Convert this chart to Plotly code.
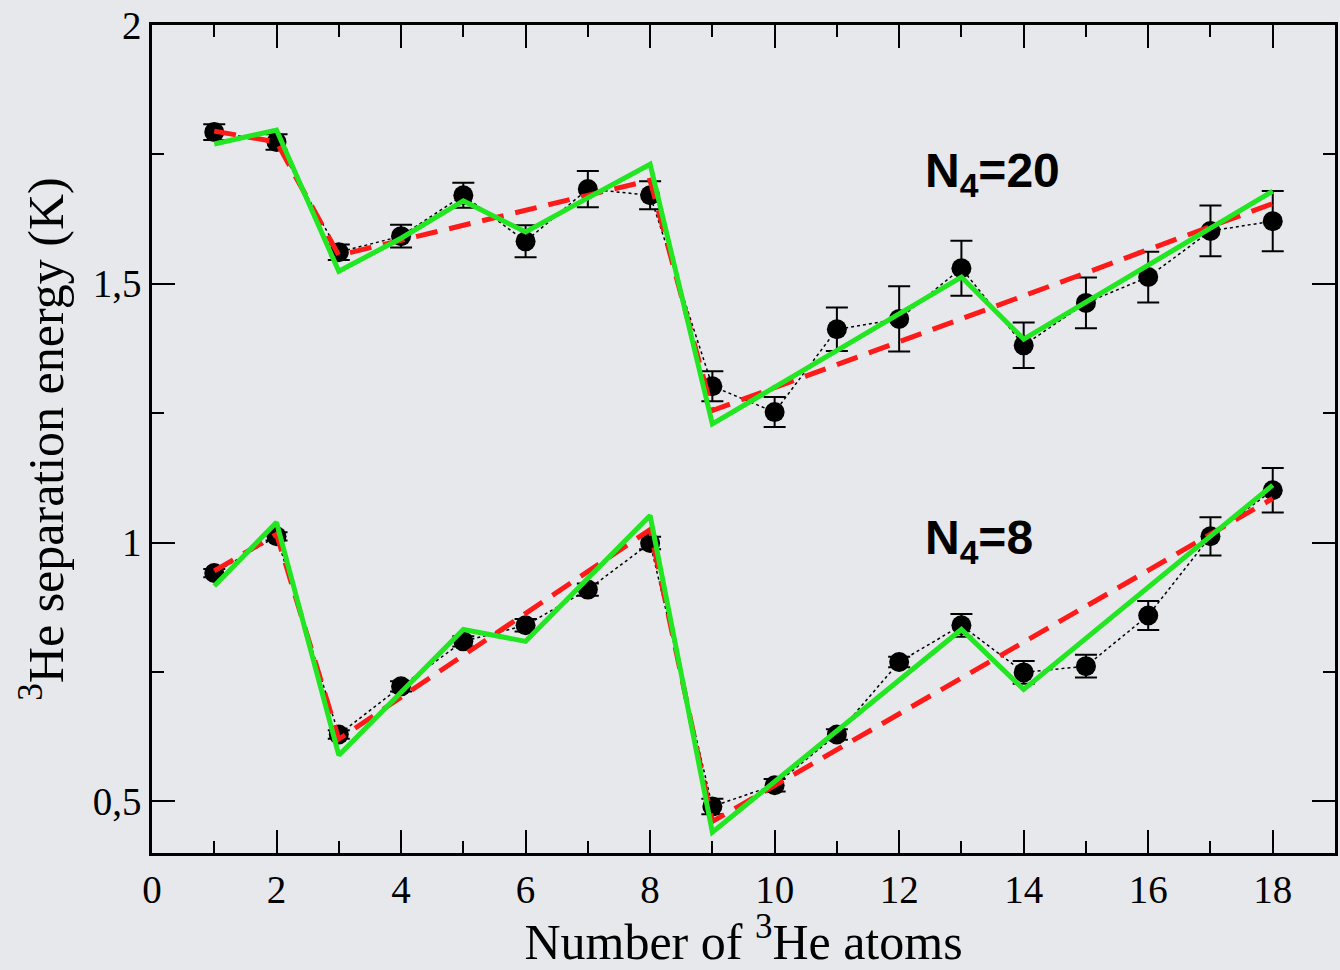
import plotly.graph_objects as go

# ---- data ----
n_he3 = list(range(1, 19))

# N4 = 20 : DMC points with error bars, red dashed model, green solid model
n20_dmc = [1.793, 1.774, 1.561, 1.592, 1.671, 1.582, 1.683, 1.671, 1.302,
           1.252, 1.412, 1.432, 1.530, 1.381, 1.463, 1.513, 1.602, 1.621]
n20_err = [0.015, 0.015, 0.015, 0.022, 0.024, 0.031, 0.035, 0.027, 0.029,
           0.029, 0.042, 0.063, 0.053, 0.044, 0.049, 0.049, 0.049, 0.058]
n20_red = [1.795, 1.774, 1.555, 1.584, 1.613, 1.642, 1.671, 1.700, 1.255,
           1.299, 1.344, 1.388, 1.433, 1.477, 1.521, 1.566, 1.610, 1.655]
n20_green = [1.770, 1.797, 1.524, 1.588, 1.660, 1.600, 1.666, 1.731, 1.229,
             1.300, 1.371, 1.442, 1.513, 1.393, 1.464, 1.536, 1.607, 1.679]

# N4 = 8
n8_dmc = [0.941, 1.012, 0.629, 0.722, 0.809, 0.840, 0.909, 0.999, 0.490,
          0.531, 0.629, 0.769, 0.840, 0.749, 0.761, 0.859, 1.012, 1.101]
n8_err = [0.008, 0.008, 0.008, 0.010, 0.010, 0.012, 0.012, 0.012, 0.015,
          0.012, 0.010, 0.010, 0.022, 0.022, 0.022, 0.028, 0.037, 0.043]
n8_red = [0.945, 1.016, 0.620, 0.701, 0.782, 0.863, 0.944, 1.025, 0.461,
          0.530, 0.600, 0.669, 0.738, 0.808, 0.877, 0.946, 1.016, 1.085]
n8_green = [0.916, 1.039, 0.589, 0.711, 0.832, 0.809, 0.931, 1.052, 0.440,
            0.538, 0.636, 0.734, 0.832, 0.716, 0.815, 0.914, 1.012, 1.111]

x_ticks = [0, 2, 4, 6, 8, 10, 12, 14, 16, 18]
y_ticks = [0.5, 1.0, 1.5, 2.0]
y_ticktext = ["0,5", "1", "1,5", "2"]

labels = [("<b>N<sub>4</sub>=20</b>", 1.712), ("<b>N<sub>4</sub>=8</b>", 1.003)]

# ---- figure ----
BG = "#e6e8eb"
RED = "#ff1a1a"
GREEN = "#22e622"

fig = go.Figure()

for vals, err in [(n20_dmc, n20_err), (n8_dmc, n8_err)]:
    fig.add_trace(go.Scatter(
        x=n_he3, y=vals, mode="lines+markers",
        line=dict(color="black", width=1.5, dash="dot"),
        marker=dict(color="black", size=20),
        error_y=dict(type="data", array=err, visible=True,
                     color="black", thickness=2, width=11),
        showlegend=False))

for vals in [n20_red, n8_red]:
    fig.add_trace(go.Scatter(
        x=n_he3, y=vals, mode="lines",
        line=dict(color=RED, width=5, dash="22px,12px"),
        showlegend=False))

for vals in [n20_green, n8_green]:
    fig.add_trace(go.Scatter(
        x=n_he3, y=vals, mode="lines",
        line=dict(color=GREEN, width=5),
        showlegend=False))

for txt, yv in labels:
    fig.add_annotation(
        x=12.38, y=yv, xref="x", yref="y", text=txt, showarrow=False,
        xanchor="left", yanchor="middle",
        font=dict(family="Liberation Sans", size=48, color="black"))

axis_common = dict(
    showline=True, linecolor="black", linewidth=2.5, mirror="ticks",
    ticks="inside", ticklen=23, tickwidth=2, tickcolor="black",
    showgrid=False, zeroline=False,
    tickfont=dict(family="Liberation Serif", size=39, color="black"),
    title_font=dict(family="Liberation Serif", size=50, color="black"),
)

fig.update_xaxes(
    range=[0, 19], tickvals=x_ticks,
    minor=dict(dtick=1, tick0=0, ticks="inside", ticklen=12,
               tickwidth=2, tickcolor="black", showgrid=False),
    title_text="Number of <sup>3</sup>He atoms", title_standoff=12,
    **axis_common)

fig.update_yaxes(
    range=[0.4, 2.0], tickvals=y_ticks, ticktext=y_ticktext,
    minor=dict(tickvals=[0.75, 1.25, 1.75], ticks="inside", ticklen=12,
               tickwidth=2, tickcolor="black", showgrid=False),
    title_text="<sup>3</sup>He separation energy (K)", title_standoff=14,
    **axis_common)

fig.update_layout(
    width=1340, height=970,
    margin=dict(l=152, r=2, t=25, b=117),
    paper_bgcolor=BG, plot_bgcolor=BG,
    showlegend=False,
)

fig.write_html("out.html")
